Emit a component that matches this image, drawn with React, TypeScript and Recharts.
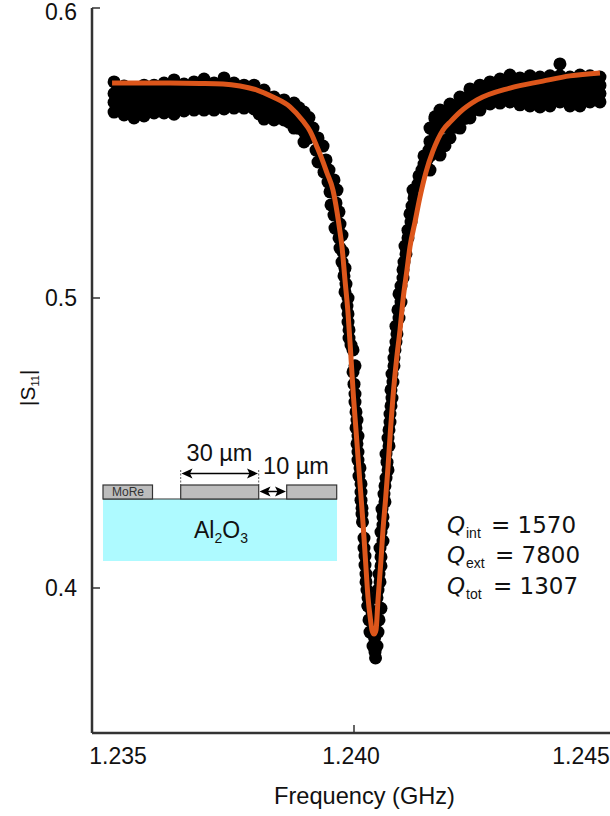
import React from 'react';
import { ComposedChart, Scatter, Line, XAxis, YAxis } from 'recharts';

// Measured reflection points: shoulders, read as rows on common frequency grids
const leftFreq = [1.235421,1.235612,1.235802,1.235993,1.236184,1.236375,1.236566,1.236756,1.236947,1.237138,1.237329,1.23752,1.23771,1.237901,1.238092,1.238283,1.238474,1.238664,1.238855,1.239046];
const leftUpper = [.5745,.5731,.5724,.5734,.5734,.5741,.5752,.5738,.5745,.5755,.5741,.5759,.5741,.5734,.5734,.5717,.5693,.5683,.5672,.5641];
const leftMid1 = [.5705,.5695,.569,.5698,.5702,.5704,.5712,.5703,.5708,.5716,.5706,.572,.5706,.57,.5699,.5684,.5662,.5652,.564,.561];
const leftMid2 = [.5675,.5665,.5655,.5663,.567,.5671,.5673,.5674,.5678,.5682,.5677,.5685,.568,.5678,.5675,.565,.5638,.5633,.5613,.5574];
const leftLower = [.5641,.5631,.5621,.5628,.5638,.5638,.5634,.5645,.5648,.5648,.5648,.5652,.5655,.5655,.5652,.5617,.5614,.5614,.5586,.5538];

const leftFreqB = [1.235517,1.235707,1.235898,1.236089,1.23628,1.23647,1.236661,1.236852,1.237043,1.237234,1.237424,1.237615,1.237806,1.237997,1.238188,1.238378,1.238569,1.23876,1.238951,1.239141];
const leftBandA = [.5722,.5716,.5711,.5718,.5722,.5726,.5732,.5723,.5729,.5735,.5727,.5735,.5724,.5717,.5708,.5691,.5679,.5668,.5656,.5622];
const leftBandB = [.5688,.568,.5674,.5681,.5686,.5688,.5692,.569,.5695,.5697,.5694,.57,.5692,.5688,.5675,.5659,.5647,.5636,.5612,.5584];
const leftBandC = [.5655,.5646,.564,.5647,.5654,.5653,.5655,.566,.5663,.5664,.5666,.5668,.5667,.5665,.5635,.5628,.5624,.5606,.5585,.5552];

const rightFreq = [1.24145,1.241641,1.241832,1.242022,1.242213,1.242404,1.242595,1.242786,1.242976,1.243167,1.243358,1.243549,1.24374,1.24393,1.244121,1.244312,1.244503,1.244694];
const rightUpper = [.5586,.5648,.5669,.5693,.5721,.5734,.5745,.5755,.5769,.5759,.5766,.5762,.5766,.5766,.5762,.5769,.5766,.5762];
const rightMid1 = [.554,.5596,.563,.5658,.5688,.5706,.572,.5728,.5738,.5727,.573,.5727,.573,.5735,.5729,.5733,.5736,.5733];
const rightMid2 = [.549,.5545,.5591,.5621,.5654,.5677,.5694,.57,.5707,.5696,.5696,.5693,.5696,.5705,.5696,.5698,.5706,.5705];
const rightLower = [.5441,.5493,.5552,.5586,.5621,.5648,.5669,.5672,.5676,.5666,.5662,.5659,.5662,.5676,.5662,.5662,.5676,.5676];

const rightFreqB = [1.241545,1.241736,1.241927,1.242118,1.242309,1.2425,1.24269,1.242881,1.243072,1.243263,1.243454,1.243644,1.243835,1.244026,1.244217,1.244408,1.244598];
const rightBandA = [.5618,.5632,.5661,.569,.5712,.5728,.5737,.5746,.5752,.5746,.5748,.5746,.5748,.5748,.5746,.575,.5751];
const rightBandB = [.5568,.5589,.5626,.5654,.5682,.57,.571,.5717,.5722,.5711,.5713,.571,.5713,.572,.5712,.5716,.5721];
const rightBandC = [.5518,.5543,.5589,.5619,.565,.5672,.5684,.5689,.5691,.5681,.5679,.5676,.5683,.5688,.5679,.568,.569];

// Measured points on the falling flank
const fallFreq = [1.239218,1.239313,1.239275,1.239409,1.239313,1.239466,1.239428,1.239523,1.239504,1.239618,1.239542,1.239676,1.239561,1.239657,1.239618,1.239714,1.239637,1.239733,1.239714,1.239771,1.239733,1.23979,1.239771,1.239828,1.239809,1.239847,1.239828,1.239886,1.239866,1.239886,1.239886,1.239905,1.239905,1.239943,1.239981,1.240019,1.239981,1.24,1.240019,1.240019,1.240038,1.240057,1.240038,1.240076,1.240057,1.240076,1.240076,1.240114,1.240095,1.240134,1.240134,1.240134,1.240153,1.240153,1.240162,1.240191,1.240191,1.24021,1.24021,1.240229,1.240229,1.240248,1.240267,1.240267];
const fallS11 = [.5586,.5552,.551,.5524,.5469,.5476,.5434,.5441,.54,.5407,.5366,.5372,.5321,.5328,.5286,.5297,.5241,.5255,.5207,.5217,.5172,.5159,.5124,.5103,.5076,.5048,.5021,.5,.4972,.4945,.4917,.489,.4862,.4838,.4821,.4766,.4745,.4703,.4669,.4641,.4607,.4579,.4552,.4524,.4497,.4469,.4441,.4414,.4386,.4359,.4331,.4303,.4276,.4255,.4228,.4172,.4138,.411,.4079,.4048,.4021,.3993,.3966,.3938];

// Measured points at the bottom of the dip
const dipFreq = [1.240286,1.240477,1.240305,1.240458,1.240363,1.240439,1.240411,1.240401,1.240392,1.240382,1.240401,1.240343,1.24042,1.240267,1.240515];
const dipS11 = [.389,.389,.3848,.3848,.38,.38,.3759,.3779,.3828,.3872,.3917,.3917,.3917,.3938,.393];

// Measured points on the rising flank
const riseFreq = [1.240439,1.240458,1.240496,1.240477,1.240515,1.240515,1.240496,1.240553,1.240515,1.240553,1.240553,1.240534,1.240591,1.240572,1.240591,1.240611,1.240649,1.24063,1.240611,1.240668,1.240649,1.240668,1.240687,1.240687,1.240706,1.240725,1.240706,1.240744,1.240725,1.240763,1.240763,1.240782,1.240801,1.24082,1.240801,1.240859,1.240839,1.240897,1.240859,1.240897,1.240935,1.240935,1.240954,1.240992,1.240973,1.24103,1.24103,1.241088,1.241068,1.241107,1.241145,1.241126,1.241221,1.24124,1.241297,1.241336,1.241336,1.241431,1.241393];
const riseS11 = [.3966,.3993,.4021,.4048,.4076,.4107,.4138,.4162,.4193,.4217,.4245,.4272,.4297,.4324,.4352,.4379,.4407,.4434,.4462,.449,.4517,.4545,.4572,.46,.4628,.4655,.4683,.471,.4738,.4766,.4793,.4821,.4848,.4876,.4903,.4931,.4959,.4986,.5014,.5041,.5069,.5097,.5124,.5152,.5179,.5207,.5234,.5262,.529,.5317,.5345,.5372,.5393,.5421,.5441,.5462,.549,.551,.5476];

// Extra points where the knee of the right shoulder is widest, and the lone high point
const kneeFreq = [1.241545,1.241545,1.241736,1.241736,1.241736,1.241488,1.24393];
const kneeS11 = [.5625,.557,.5605,.5645,.5525,.5505,.5807];

// Fitted resonance curve
const fitFreq = [1.235383,1.235917,1.236489,1.237062,1.237501,1.237825,1.238149,1.238455,1.238779,1.239027,1.23916,1.239294,1.239389,1.239485,1.239599,1.239676,1.239733,1.239771,1.239828,1.239886,1.239933,1.23999,1.240038,1.240076,1.240124,1.240172,1.240219,1.240267,1.240315,1.240343,1.240382,1.24042,1.240458,1.240515,1.240553,1.240601,1.240649,1.240696,1.240744,1.240811,1.240878,1.240935,1.241011,1.241068,1.241164,1.241259,1.241374,1.241507,1.241698,1.241851,1.242022,1.242347,1.242976,1.243606,1.244121,1.244694];
const fitS11 = [.5741,.5741,.5741,.574,.5738,.5731,.5717,.5693,.5659,.561,.5576,.5521,.5479,.5431,.5372,.5297,.5228,.5176,.5062,.4948,.4821,.4659,.4545,.4452,.4338,.4224,.4097,.3969,.389,.3855,.3841,.3855,.3959,.4097,.42,.4303,.4417,.4545,.4659,.4786,.489,.4993,.5097,.5176,.5262,.5348,.5434,.5507,.5579,.561,.5641,.5683,.5724,.5748,.5766,.5776];

const xTicks = [1.235, 1.24, 1.245];
const xTickLabels = ['1.235', '1.240', '1.245'];
const xTickShift = [26, -3, -35];
const yTicks = [0.4, 0.5, 0.6];
const yTickLabels = ['0.4', '0.5', '0.6'];
const xDomain = [1.235, 1.245458];
const yDomain = [0.35, 0.6];

const zip = (f: number[], s: number[]) => f.map((v, i) => ({ f: v, s: s[i] }));
const points = [
  ...zip(leftFreq, leftUpper), ...zip(leftFreq, leftMid1), ...zip(leftFreq, leftMid2), ...zip(leftFreq, leftLower),
  ...zip(leftFreqB, leftBandA), ...zip(leftFreqB, leftBandB), ...zip(leftFreqB, leftBandC),
  ...zip(fallFreq, fallS11), ...zip(dipFreq, dipS11), ...zip(riseFreq, riseS11), ...zip(kneeFreq, kneeS11),
  ...zip(rightFreq, rightUpper), ...zip(rightFreq, rightMid1), ...zip(rightFreq, rightMid2), ...zip(rightFreq, rightLower),
  ...zip(rightFreqB, rightBandA), ...zip(rightFreqB, rightBandB), ...zip(rightFreqB, rightBandC),
];
const fit = zip(fitFreq, fitS11);

const SANS = '"Liberation Sans", Arial, sans-serif';
const DEJA = '"DejaVu Sans", sans-serif';
const INK = '#111111';
const AXIS = '#333333';

const Dot = (p: any) => <circle cx={p.cx} cy={p.cy} r={6.5} fill="#000" />;

const XTick = (p: any) => {
  const i = xTicks.indexOf(p.payload.value);
  return (
    <g>
      <line x1={p.x} x2={p.x} y1={733} y2={725} stroke={AXIS} strokeWidth={1.5} />
      <text x={p.x + xTickShift[i]} y={764} textAnchor="middle" fontFamily={SANS} fontSize={23} fill={INK}>{xTickLabels[i]}</text>
    </g>
  );
};

const YTick = (p: any) => {
  const i = yTicks.indexOf(p.payload.value);
  return (
    <g>
      <line x1={92} x2={100} y1={p.y} y2={p.y} stroke={AXIS} strokeWidth={1.5} />
      <text x={77} y={i === 2 ? p.y + 12 : p.y + 8} textAnchor="end" fontFamily={SANS} fontSize={23} fill={INK}>{yTickLabels[i]}</text>
    </g>
  );
};

const QLine = ({ y, sub, val, eqX }: { y: number; sub: string; val: string; eqX: number }) => (
  <text y={y} fontFamily={DEJA} fontSize={23} fill={INK}>
    <tspan x={447} fontStyle="italic">Q</tspan>
    <tspan x={466} dy={5} fontFamily={SANS} fontSize={14}>{sub}</tspan>
    <tspan x={eqX} dy={-5}>= {val}</tspan>
  </text>
);

const Arrow = ({ x1, x2, y }: { x1: number; x2: number; y: number }) => (
  <g>
    <line x1={x1 + 4} x2={x2 - 4} y1={y} y2={y} stroke="#000" strokeWidth={1.5} />
    <path d={`M${x1},${y} l11,-5 l-2.5,5 l2.5,5 z`} fill="#000" />
    <path d={`M${x2},${y} l-11,-5 l2.5,5 l-2.5,5 z`} fill="#000" />
  </g>
);

const Annotations = () => (
  <svg width={610} height={816} style={{ position: 'absolute', left: 0, top: 0, pointerEvents: 'none' }}>
    <rect x={103} y={499} width={234} height={62} fill="#AEFAFF" />
    <line x1={103} x2={337} y1={499} y2={499} stroke={AXIS} strokeWidth={1.2} />
    <rect x={103} y={485} width={49.5} height={14} fill="#BDBDBD" stroke={AXIS} strokeWidth={1.2} />
    <rect x={180.7} y={485} width={78} height={14} fill="#BDBDBD" stroke={AXIS} strokeWidth={1.2} />
    <rect x={286.7} y={485} width={50} height={14} fill="#BDBDBD" stroke={AXIS} strokeWidth={1.2} />
    <line x1={180.7} x2={180.7} y1={470} y2={485} stroke={AXIS} strokeWidth={0.8} strokeDasharray="2 1.5" />
    <line x1={258.7} x2={258.7} y1={470} y2={485} stroke={AXIS} strokeWidth={0.8} strokeDasharray="2 1.5" />
    <Arrow x1={181.5} x2={258} y={473.5} />
    <Arrow x1={259.5} x2={286} y={491.5} />
    <text x={128} y={496} textAnchor="middle" fontFamily={SANS} fontSize={12} fill="#333">MoRe</text>
    <text x={219.5} y={461} textAnchor="middle" fontFamily={SANS} fontSize={23.5} fill={INK}>30 µm</text>
    <text x={296} y={474} textAnchor="middle" fontFamily={SANS} fontSize={23.5} fill={INK}>10 µm</text>
    <text x={221} y={538} textAnchor="middle" fontFamily={SANS} fontSize={23} fill={INK}>
      Al<tspan fontSize={14} dy={5}>2</tspan><tspan dy={-5}>O</tspan><tspan fontSize={14} dy={5}>3</tspan>
    </text>
    <QLine y={533} sub="int" val="1570" eqX={491} />
    <QLine y={563} sub="ext" val="7800" eqX={495} />
    <QLine y={594} sub="tot" val="1307" eqX={493} />
    <text x={364.5} y={804} textAnchor="middle" fontFamily={SANS} fontSize={23.6} fill={INK}>Frequency (GHz)</text>
    <text transform="translate(35,406) rotate(-90)" fontFamily={SANS} fontSize={21} fill={INK}>
      |S<tspan fontSize={11} dy={4}>11</tspan><tspan dy={-4}>|</tspan>
    </text>
  </svg>
);

const MARGIN = { top: 8, right: 0, bottom: 0, left: 0 };

export default function App() {
  return (
    <div style={{ position: 'absolute', left: 0, top: 0, width: 610, height: 816, overflow: 'hidden', background: '#fff' }}>
      <ComposedChart width={640} height={816} margin={MARGIN}>
        <XAxis
          type="number"
          dataKey="f"
          domain={xDomain}
          ticks={xTicks}
          interval={0}
          allowDataOverflow
          height={83}
          axisLine={{ stroke: AXIS, strokeWidth: 2.5 }}
          tickLine={false}
          tickSize={0}
          tick={<XTick />}
        />
        <YAxis
          type="number"
          domain={yDomain}
          ticks={yTicks}
          interval={0}
          allowDataOverflow
          width={92}
          axisLine={{ stroke: AXIS, strokeWidth: 2.5 }}
          tickLine={false}
          tickSize={0}
          tick={<YTick />}
        />
        <Scatter data={points} dataKey="s" shape={<Dot />} isAnimationActive={false} />
      </ComposedChart>
      <div style={{ position: 'absolute', left: 0, top: 0 }}>
        <ComposedChart width={640} height={816} margin={MARGIN}>
          <XAxis type="number" dataKey="f" domain={xDomain} allowDataOverflow height={83} axisLine={false} tickLine={false} tick={false} />
          <YAxis type="number" domain={yDomain} allowDataOverflow width={92} axisLine={false} tickLine={false} tick={false} />
          <Line data={fit} dataKey="s" type="monotone" dot={false} stroke="#DC561B" strokeWidth={5} isAnimationActive={false} />
        </ComposedChart>
      </div>
      <Annotations />
    </div>
  );
}
